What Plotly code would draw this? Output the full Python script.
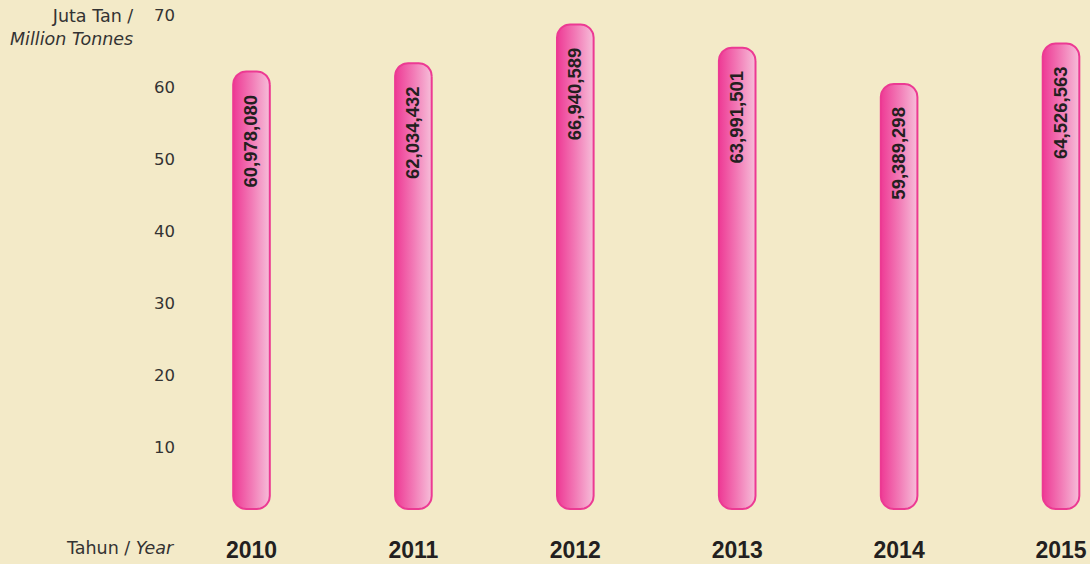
import numpy as np
import plotly.graph_objects as go

# ---- data ----
years = ["2010", "2011", "2012", "2013", "2014", "2015"]
production_tonnes = [60978080, 62034432, 66940589, 63991501, 59389298, 64526563]
y_tick_values = [10, 20, 30, 40, 50, 60, 70]

# ---- style ----
BG = "#F3EAC8"
DARK = "#231F20"
AXIS_TXT = "#333333"
OUTLINE = "#EC3A93"
GRAD = [[0.0, "#EE3A95"], [0.5, "#F27AB6"], [1.0, "#F6BED9"]]

# layout geometry (pixels)
W, H = 1090, 564
ML, MR, MT, MB = 180, 0, 12, 30
plot_w = W - ML - MR
plot_h = H - MT - MB

X_RANGE = [-0.4416, 5.179]
X_PX = plot_w / (X_RANGE[1] - X_RANGE[0])
BAR_RANGE = [2.284, 68.53]          # hidden axis carrying the bars (millions)
Y_PX = plot_h / (BAR_RANGE[1] - BAR_RANGE[0])
SCALE_RANGE = [-2.04, 70.486]       # visible scale axis

HW = 18.3 / X_PX
RX = 13 / X_PX
RY = 13 / Y_PX
BASE = 5.46


def capsule(xc, y0, y1):
    xs, ys = [], []
    corners = [(xc + HW - RX, y1 - RY, 0, 90),
               (xc - HW + RX, y1 - RY, 90, 180),
               (xc - HW + RX, y0 + RY, 180, 270),
               (xc + HW - RX, y0 + RY, 270, 360)]
    for cx, cy, a0, a1 in corners:
        for a in np.linspace(np.radians(a0), np.radians(a1), 12):
            xs.append(cx + RX * np.cos(a))
            ys.append(cy + RY * np.sin(a))
    xs.append(xs[0])
    ys.append(ys[0])
    return xs, ys


fig = go.Figure()
# empty trace so that the scale axis (y) is drawn
fig.add_trace(go.Scatter(x=[None], y=[None], mode="markers", showlegend=False,
                         hoverinfo="skip", xaxis="x", yaxis="y"))
annotations = []
for i, (yr, val) in enumerate(zip(years, production_tonnes)):
    v = val / 1e6
    xs, ys = capsule(i, BASE, v)
    fig.add_trace(go.Scatter(
        x=xs, y=ys, mode="lines", fill="toself",
        fillgradient=dict(type="horizontal", colorscale=GRAD),
        line=dict(color=OUTLINE, width=2),
        hoverinfo="text", text=f"{yr}: {val:,}", showlegend=False,
        xaxis="x", yaxis="y2"))
    annotations.append(dict(
        x=i, y=v, xref="x", yref="y2", text=f"<b>{val:,}</b>",
        textangle=-90, showarrow=False, xanchor="center", yanchor="top",
        yshift=-21, xshift=-1,
        font=dict(family="Liberation Sans", size=18.5, color=DARK)))

annotations.append(dict(
    x=(135 - ML) / plot_w, y=1 - (27 - MT) / plot_h, xref="paper", yref="paper",
    text="Juta Tan /<br><i>Million Tonnes</i>", align="right",
    xanchor="right", yanchor="middle", showarrow=False,
    font=dict(family="DejaVu Sans", size=17.5, color=AXIS_TXT)))
annotations.append(dict(
    x=(177 - ML) / plot_w, y=-(548 - (H - MB)) / plot_h, xref="paper", yref="paper",
    text="Tahun / <i>Year</i>", xanchor="right", yanchor="middle", showarrow=False,
    font=dict(family="DejaVu Sans", size=17.5, color=AXIS_TXT)))

fig.update_layout(
    width=W, height=H,
    margin=dict(l=ML, r=MR, t=MT, b=MB, pad=0),
    paper_bgcolor=BG, plot_bgcolor=BG,
    showlegend=False,
    xaxis=dict(range=X_RANGE, tickmode="array", tickvals=list(range(len(years))),
               ticktext=[f"<b>{y}</b>" for y in years], showgrid=False, zeroline=False,
               showline=False, ticks="",
               tickfont=dict(family="Liberation Sans", size=23, color=DARK)),
    yaxis=dict(range=SCALE_RANGE, tickmode="array",
               tickvals=y_tick_values, ticktext=[str(t) for t in y_tick_values],
               showgrid=False, zeroline=False, showline=False, ticks="",
               ticklabelstandoff=4,
               tickfont=dict(family="DejaVu Sans", size=16.5, color=AXIS_TXT)),
    yaxis2=dict(range=BAR_RANGE, overlaying="y", visible=False,
                showgrid=False, zeroline=False),
    annotations=annotations,
)

fig.write_html(
    "out.html",
    config={"displayModeBar": False},
    post_script="document.body.style.margin='0';document.body.style.overflow='hidden';",
)
